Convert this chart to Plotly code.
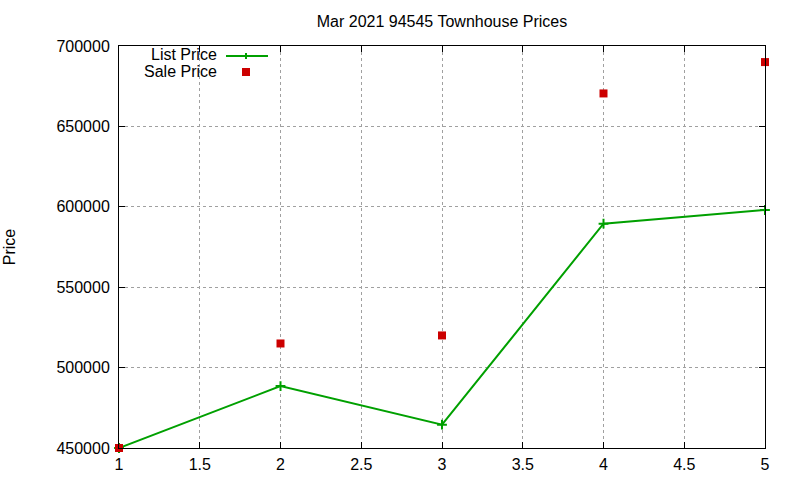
import plotly.graph_objects as go

months = [1, 2, 3, 4, 5]
list_price = [450000, 488500, 464500, 589500, 598000]
sale_price = [450000, 515000, 520000, 670500, 690000]

green = "rgb(0,160,0)"
red = "rgb(204,0,0)"
font = "Liberation Sans, Arial, sans-serif"

fig = go.Figure()
fig.add_trace(go.Scatter(x=months, y=list_price, mode="lines+markers", name="List Price",
                         line=dict(color=green, width=2),
                         marker=dict(symbol="cross-thin", size=7, line=dict(color=green, width=2)),
                         showlegend=False, cliponaxis=False))
fig.add_trace(go.Scatter(x=months, y=sale_price, mode="markers", name="Sale Price",
                         marker=dict(symbol="square", size=8, color=red),
                         showlegend=False, cliponaxis=False))

axis_common = dict(showline=True, linecolor="black", linewidth=1, mirror="ticks",
                   ticks="inside", ticklen=6, tickcolor="black", automargin=False,
                   showgrid=True, gridcolor="rgb(160,160,160)", griddash="dot", gridwidth=1,
                   zeroline=False, tickfont=dict(family=font, size=16, color="black"))

fig.update_xaxes(range=[1, 5], tickvals=[1, 1.5, 2, 2.5, 3, 3.5, 4, 4.5, 5],
                 ticktext=["1", "1.5", "2", "2.5", "3", "3.5", "4", "4.5", "5"],
                 ticklabelstandoff=2, **axis_common)
fig.update_yaxes(range=[450000, 700000], dtick=50000, tickformat="d", ticklabelstandoff=5,
                 title=dict(text="Price", font=dict(family=font, size=16, color="black"), standoff=36),
                 **axis_common)

# gnuplot-style key: text left, sample right
fig.add_annotation(xref="paper", yref="paper", x=(219 - 119) / 646, y=(448 - 55) / 402,
                   text="List Price", showarrow=False, xanchor="right", yanchor="middle",
                   font=dict(family=font, size=16, color="black"))
fig.add_annotation(xref="paper", yref="paper", x=(219 - 119) / 646, y=(448 - 71) / 402,
                   text="Sale Price", showarrow=False, xanchor="right", yanchor="middle",
                   font=dict(family=font, size=16, color="black"))
fig.add_shape(type="line", xref="paper", yref="paper",
              x0=(226 - 119) / 646, x1=(268 - 119) / 646, y0=(448 - 56) / 402, y1=(448 - 56) / 402,
              line=dict(color=green, width=2))
fig.add_shape(type="line", xref="paper", yref="paper",
              x0=(246 - 119) / 646, x1=(246 - 119) / 646, y0=(448 - 53) / 402, y1=(448 - 59) / 402,
              line=dict(color=green, width=2))
fig.add_shape(type="rect", xref="paper", yref="paper",
              x0=(242 - 119) / 646, x1=(250 - 119) / 646, y0=(448 - 68) / 402, y1=(448 - 76) / 402,
              line=dict(width=0), fillcolor=red)

fig.update_layout(
    width=800, height=480,
    margin=dict(l=119, r=35, t=46, b=32),
    paper_bgcolor="white", plot_bgcolor="white",
    title=dict(text="Mar 2021 94545 Townhouse Prices", x=(119 + 765) / 2 / 800, xanchor="center",
               y=1 - 21 / 480, yanchor="middle", font=dict(family=font, size=16, color="black")),
    font=dict(family=font, size=16, color="black"),
)

fig.write_html("out.html")
